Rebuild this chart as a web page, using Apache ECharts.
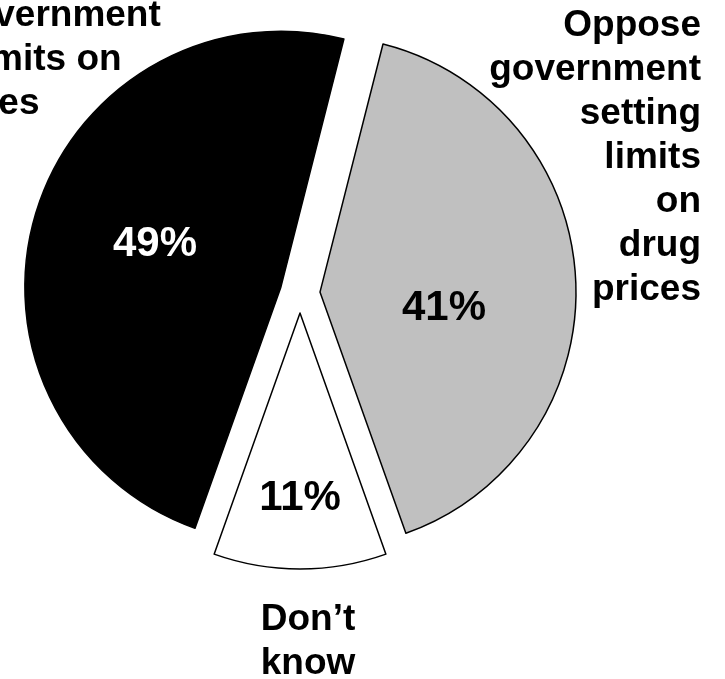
<!DOCTYPE html>
<html><head><meta charset="utf-8">
<script src="https://cdn.jsdelivr.net/npm/echarts@6/dist/echarts.min.js"></script>
<style>html,body{margin:0;padding:0;background:#fff}#c{width:725px;height:679px}</style>
</head><body><div id="c"></div>
<script>
const categories = ['Favor government setting limits on drug prices', 'Oppose government setting limits on drug prices', 'Don\u2019t know'];
const values = [49, 41, 11];
const nameLines = [
  ['Favor government', 'setting limits on', 'drug prices'],
  ['Oppose', 'government', 'setting', 'limits', 'on', 'drug', 'prices'],
  ['Don\u2019t', 'know']
];

const FONT = '"Liberation Sans", Arial, Helvetica, sans-serif';
const sliceColors = ['#000000', '#c0c0c0', '#ffffff'];
const pctColors = ['#ffffff', '#000000', '#000000'];
const pctPos = [[155, 244], [444, 308], [300, 498]];
const namePos = [
  {x: -162, y: 60, align: 'left'},
  {x: 701, y: 158, align: 'right'},
  {x: 308, y: 642, align: 'center'}
];

const base = {
  type: 'pie',
  center: [300, 293],
  radius: [0, 256],
  startAngle: 250.4,
  clockwise: true,
  avoidLabelOverlap: false,
  silent: true,
  emphasis: {disabled: true},
  labelLine: {show: false}
};

const chart = echarts.init(document.getElementById('c'), null, {renderer: 'canvas'});
chart.setOption({
  backgroundColor: '#ffffff',
  animation: false,
  series: [
    Object.assign({}, base, {
      selectedMode: 'multiple',
      selectedOffset: 20,
      itemStyle: {borderColor: '#000000', borderWidth: 1.5},
      label: {show: false},
      data: values.map((v, i) => ({
        name: categories[i], value: v, selected: true,
        itemStyle: {color: sliceColors[i]}
      }))
    }),
    Object.assign({}, base, {
      itemStyle: {color: 'rgba(0,0,0,0)', borderWidth: 0},
      label: {
        show: true, position: 'inside',
        formatter: p => p.value + '%',
        fontSize: 42, fontWeight: 'bold', fontFamily: FONT
      },
      labelLayout: p => ({
        x: pctPos[p.dataIndex][0], y: pctPos[p.dataIndex][1],
        align: 'center', verticalAlign: 'middle'
      }),
      data: values.map((v, i) => ({
        name: categories[i], value: v,
        label: {color: pctColors[i]}
      }))
    }),
    Object.assign({}, base, {
      itemStyle: {color: 'rgba(0,0,0,0)', borderWidth: 0},
      label: {
        show: true, position: 'inside',
        formatter: p => nameLines[p.dataIndex].join('\n'),
        fontSize: 37, fontWeight: 'bold', fontFamily: FONT,
        color: '#000000', lineHeight: 44
      },
      labelLayout: p => ({
        x: namePos[p.dataIndex].x, y: namePos[p.dataIndex].y,
        align: namePos[p.dataIndex].align, verticalAlign: 'middle'
      }),
      data: values.map((v, i) => ({name: categories[i], value: v}))
    })
  ]
});
</script>
</body></html>
